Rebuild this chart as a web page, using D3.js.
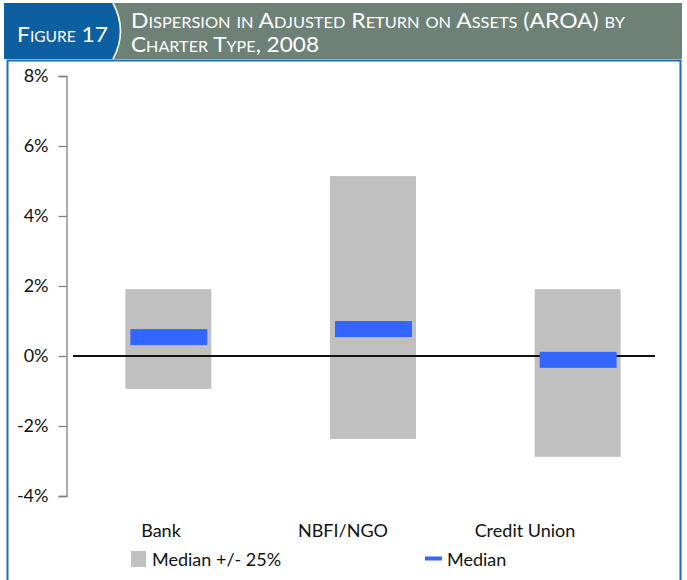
<!DOCTYPE html>
<html>
<head>
<meta charset="utf-8">
<script src="https://cdn.jsdelivr.net/npm/d3@7"></script>
<style>
  body { margin: 0; background: #fff; }
  text { font-family: Lato, "Open Sans", sans-serif; }
</style>
</head>
<body>
<svg id="chart" width="687" height="580"></svg>
<script>
// data
const categories = ['Bank', 'NBFI/NGO', 'Credit Union'];
const upperQ = [1.91, 5.14, 1.91];
const lowerQ = [-0.94, -2.37, -2.88];
const medians = [0.54, 0.77, -0.11];
const yTicks = [-4, -2, 0, 2, 4, 6, 8];

const svg = d3.select('#chart');

// header band
svg.append('rect')
  .attr('x', 4).attr('y', 3).attr('width', 678).attr('height', 56)
  .attr('fill', '#6d8177');

svg.append('path')
  .attr('d', 'M4,3 L113,3 Q128,31 113,59 L4,59 Z')
  .attr('fill', '#0c60a2');
svg.append('path')
  .attr('d', 'M113,3 Q128,31 113,59')
  .attr('fill', 'none')
  .attr('stroke', '#fff')
  .attr('stroke-width', 1.6);

svg.append('text')
  .attr('x', 17).attr('y', 42)
  .attr('fill', '#fff')
  .style('font-size', '22px')
  .style('font-variant', 'small-caps')
  .attr('textLength', 91).attr('lengthAdjust', 'spacingAndGlyphs')
  .text('Figure 17');

svg.append('text')
  .attr('x', 131).attr('y', 28)
  .attr('fill', '#fff')
  .style('font-size', '21px')
  .style('font-variant', 'small-caps')
  .attr('textLength', 494).attr('lengthAdjust', 'spacingAndGlyphs')
  .text('Dispersion in Adjusted Return on Assets (AROA) by');

svg.append('text')
  .attr('x', 131).attr('y', 52)
  .attr('fill', '#fff')
  .style('font-size', '21px')
  .style('font-variant', 'small-caps')
  .attr('textLength', 188).attr('lengthAdjust', 'spacingAndGlyphs')
  .text('Charter Type, 2008');

// frame
svg.append('path')
  .attr('d', 'M7.5,582 L7.5,60.5 L680.5,60.5 L680.5,582')
  .attr('fill', 'none')
  .attr('stroke', '#1b6db4')
  .attr('stroke-width', 2);

// scales
const y = d3.scaleLinear().domain([-4, 8]).range([496, 76]);

const x = d3.scaleBand()
  .domain(categories)
  .range([66, 680])
  .paddingInner(0.58)
  .paddingOuter(0.29);

const xLabel = d3.scalePoint()
  .domain(categories)
  .range([161, 525]);

// y axis
const yAxis = svg.append('g')
  .attr('transform', 'translate(66.5,0)')
  .call(d3.axisLeft(y).tickValues(yTicks).tickSize(8).tickFormat((d) => d + '%'));
yAxis.select('.domain').attr('stroke', '#7f7f7f').attr('stroke-width', 1.3);
yAxis.selectAll('.tick line').attr('stroke', '#7f7f7f').attr('stroke-width', 1.3);
yAxis.selectAll('.tick text')
  .attr('x', -18)
  .attr('fill', '#111')
  .style('font-size', '18px')
  .style('font-family', 'Lato, sans-serif');

const rows = categories.map((c, i) => ({
  cat: c, lo: lowerQ[i], hi: upperQ[i], med: medians[i]
}));

// boxes (median +/- 25%)
svg.append('g')
  .selectAll('rect')
  .data(rows)
  .enter()
  .append('rect')
  .attr('x', (d) => x(d.cat))
  .attr('y', (d) => y(d.hi))
  .attr('width', x.bandwidth())
  .attr('height', (d) => y(d.lo) - y(d.hi))
  .attr('fill', '#c0c0c0');

// zero line
svg.append('line')
  .attr('x1', 73).attr('x2', 655)
  .attr('y1', y(0)).attr('y2', y(0))
  .attr('stroke', '#111')
  .attr('stroke-width', 2);

// medians
svg.append('g')
  .selectAll('rect')
  .data(rows)
  .enter()
  .append('rect')
  .attr('x', (d) => x(d.cat) + 5)
  .attr('y', (d) => y(d.med) - 8)
  .attr('width', x.bandwidth() - 9)
  .attr('height', 16)
  .attr('fill', '#3366ff');

// category labels
svg.append('g')
  .selectAll('text')
  .data(categories)
  .enter()
  .append('text')
  .attr('x', (d) => xLabel(d))
  .attr('y', 537)
  .attr('text-anchor', 'middle')
  .attr('fill', '#111')
  .style('font-size', '18px')
  .text((d) => d);

// legend
svg.append('rect')
  .attr('x', 131).attr('y', 551).attr('width', 15).attr('height', 16)
  .attr('fill', '#c0c0c0');
svg.append('text')
  .attr('x', 152).attr('y', 566)
  .attr('fill', '#111')
  .style('font-size', '18px')
  .text('Median +/- 25%');

svg.append('line')
  .attr('x1', 425).attr('x2', 442)
  .attr('y1', 558.5).attr('y2', 558.5)
  .attr('stroke', '#3366ff')
  .attr('stroke-width', 4);
svg.append('text')
  .attr('x', 447).attr('y', 566)
  .attr('fill', '#111')
  .style('font-size', '18px')
  .text('Median');
</script>
</body>
</html>
